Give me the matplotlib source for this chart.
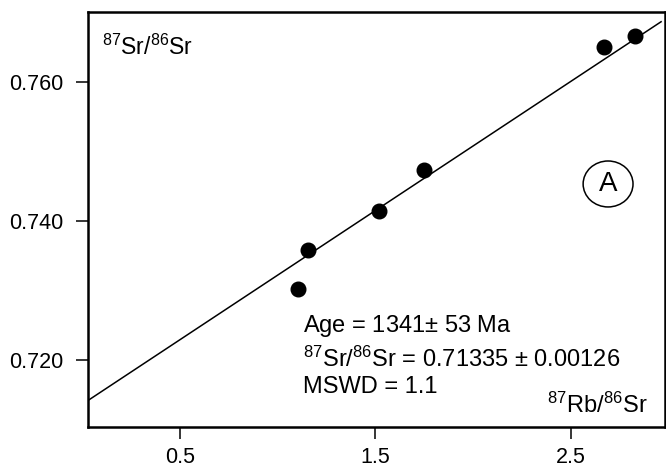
import numpy as np
import matplotlib
matplotlib.use('Agg')
import matplotlib.pyplot as plt
from matplotlib.patches import Ellipse

plt.rcParams['font.family'] = ['Liberation Sans', 'DejaVu Sans']
plt.rcParams['mathtext.fontset'] = 'custom'
plt.rcParams['mathtext.rm'] = 'Liberation Sans'
plt.rcParams['mathtext.it'] = 'Liberation Sans'

rb_sr = [1.105, 1.156, 1.52, 1.747, 2.667, 2.826]
sr_sr = [0.7302, 0.7358, 0.7414, 0.7473, 0.7649, 0.7665]

# regression line (ends as drawn)
line_x = [0.03, 2.96]
line_y = [0.7142, 0.7686]

x_ticks = [0.5, 1.5, 2.5]
x_labels = ['0.5', '1.5', '2.5']
y_ticks = [0.720, 0.740, 0.760]
y_labels = ['0.720', '0.740', '0.760']

result_lines = ['Age = 1341$\\pm$ 53 Ma',
                '$^{87}$Sr/$^{86}$Sr = 0.71335 $\\pm$ 0.00126',
                'MSWD = 1.1']

fig = plt.figure(figsize=(6.66, 4.70), dpi=100)
ax = fig.add_axes([0.132, 0.0915, 0.8665, 0.883])

ax.plot(line_x, line_y, color='black', lw=1.1)
ax.plot(rb_sr, sr_sr, 'o', color='black', ms=10.5)

ax.set_xlim(0.03, 2.98)
ax.set_ylim(0.7104, 0.770)
ax.set_xticks(x_ticks)
ax.set_xticklabels(x_labels)
ax.set_yticks(y_ticks)
ax.set_yticklabels(y_labels)
ax.tick_params(axis='both', direction='out', length=8.5, width=1.1, labelsize=15.5)
ax.tick_params(axis='y', pad=9)
ax.tick_params(axis='x', pad=6)
for s in ax.spines.values():
    s.set_linewidth(1.8)

ax.text(0.024, 0.896, r'$^{87}$Sr/$^{86}$Sr', transform=ax.transAxes,
        fontsize=16.5, va='baseline', ha='left')
ax.text(0.9705, 0.034, r'$^{87}$Rb/$^{86}$Sr', transform=ax.transAxes,
        fontsize=17, va='baseline', ha='right')

for txt, yb in zip(result_lines, [0.229, 0.1446, 0.082]):
    ax.text(0.3726, yb, txt, transform=ax.transAxes, fontsize=17,
            va='baseline', ha='left')

# circled panel letter
ax.add_patch(Ellipse((2.689, 0.7453), 0.255, 0.0066, fill=False, lw=1.1, color='black'))
ax.text(2.689, 0.7453, 'A', fontsize=20, ha='center', va='center')

fig.savefig('out.png', dpi=100)
